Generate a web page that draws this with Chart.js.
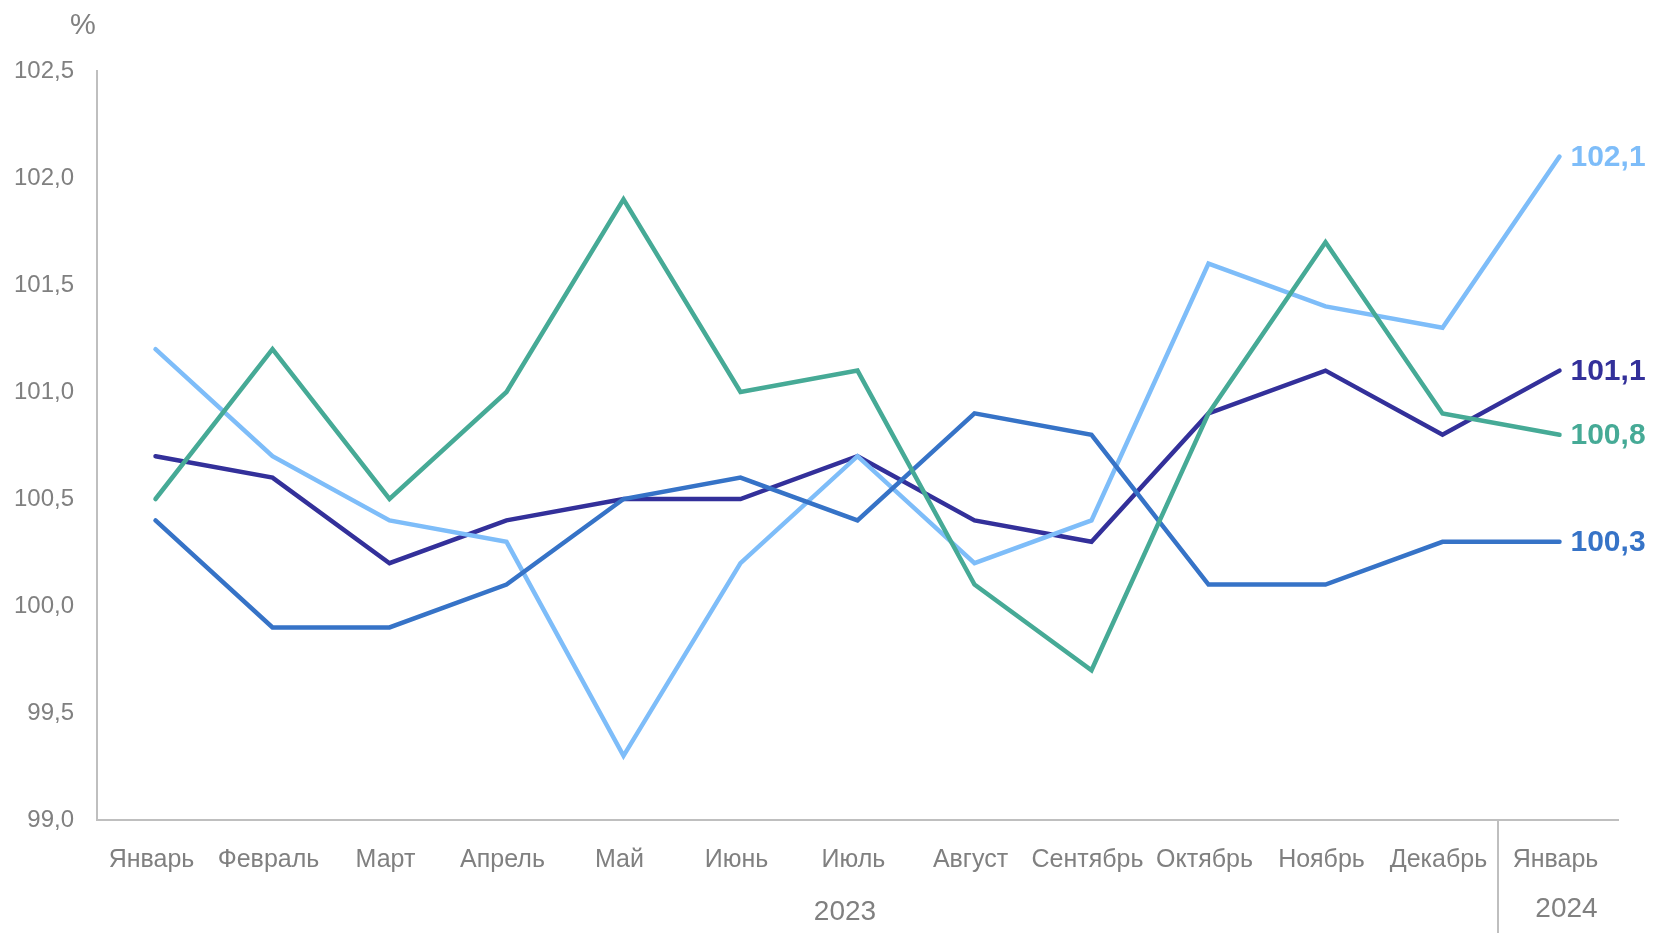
<!DOCTYPE html>
<html>
<head>
<meta charset="utf-8">
<script src="https://cdn.jsdelivr.net/npm/chart.js@4"></script>
<style>
  html, body { margin: 0; padding: 0; background: #fff; }
  #wrap { width: 1655px; height: 933px; position: relative; }
</style>
</head>
<body>
<div id="wrap"><canvas id="grafico"></canvas></div>
<script>
// categorías y años
const meses = ['Январь', 'Февраль', 'Март', 'Апрель', 'Май', 'Июнь', 'Июль',
  'Август', 'Сентябрь', 'Октябрь', 'Ноябрь', 'Декабрь', 'Январь'];
const anios = ['2023', '2024'];

// series (%)
const serieVerde = [100.5, 101.2, 100.5, 101.0, 101.9, 101.0, 101.1, 100.1, 99.7, 100.9, 101.7, 100.9, 100.8];
const serieAzul = [100.4, 99.9, 99.9, 100.1, 100.5, 100.6, 100.4, 100.9, 100.8, 100.1, 100.1, 100.3, 100.3];
const serieCeleste = [101.2, 100.7, 100.4, 100.3, 99.3, 100.2, 100.7, 100.2, 100.4, 101.6, 101.4, 101.3, 102.1];
const serieMarino = [100.7, 100.6, 100.2, 100.4, 100.5, 100.5, 100.7, 100.4, 100.3, 100.9, 101.1, 100.8, 101.1];

// eje Y
const yMin = 99.0, yMax = 102.5, yPaso = 0.5;

const gris = '#808080';
const grisLinea = '#BFBFBF';
const fuente = '"Liberation Sans", Arial, sans-serif';

const fmt = v => v.toFixed(1).replace('.', ',');

// etiquetas al final de cada línea, textos extra y separador de años
const extras = {
  id: 'extras',
  afterDatasetsDraw(chart) {
    const ctx = chart.ctx;
    const x = chart.scales.x, y = chart.scales.y;
    ctx.save();
    // etiquetas finales
    ctx.font = 'bold 30px ' + fuente;
    ctx.textAlign = 'left';
    ctx.textBaseline = 'middle';
    chart.data.datasets.forEach((ds, i) => {
      const meta = chart.getDatasetMeta(i);
      const p = meta.data[meta.data.length - 1];
      ctx.fillStyle = ds.borderColor;
      ctx.fillText(fmt(ds.data[ds.data.length - 1]), p.x + 11, p.y + 1);
    });
    // unidad
    ctx.fillStyle = gris;
    ctx.font = '29px ' + fuente;
    ctx.textAlign = 'center';
    ctx.fillText('%', 83, 26);
    // separador entre años
    const sep = (x.getPixelForValue(11) + x.getPixelForValue(12)) / 2 - 3;
    ctx.strokeStyle = grisLinea;
    ctx.lineWidth = 2;
    ctx.beginPath();
    ctx.moveTo(sep, y.bottom);
    ctx.lineTo(sep, chart.height);
    ctx.stroke();
    // años
    ctx.font = '28px ' + fuente;
    ctx.fillText(anios[0], 845, 912);
    ctx.fillText(anios[1], x.getPixelForValue(12) + 7, 909);
    ctx.restore();
  }
};

function serie(datos, color) {
  return {
    data: datos,
    borderColor: color,
    backgroundColor: color,
    borderWidth: 4.5,
    borderCapStyle: 'round',
    pointRadius: 0,
    tension: 0,
    fill: false
  };
}

new Chart(document.getElementById('grafico'), {
  type: 'line',
  data: {
    labels: meses,
    datasets: [
      serie(serieVerde, '#46AA96'),
      serie(serieAzul, '#3673C7'),
      serie(serieCeleste, '#7EBDF9'),
      serie(serieMarino, '#33309A')
    ]
  },
  options: {
    responsive: true,
    maintainAspectRatio: false,
    animation: false,
    layout: { padding: { top: 71, right: 37, left: 0, bottom: 0 } },
    plugins: { legend: { display: false }, tooltip: { enabled: false } },
    scales: {
      x: {
        offset: true,
        grid: { display: false, drawTicks: false },
        border: { display: true, color: grisLinea, width: 2 },
        ticks: {
          color: gris,
          font: { family: fuente, size: 25 },
          padding: 25,
          labelOffset: -4,
          maxRotation: 0,
          autoSkip: false
        },
        afterFit(scale) { scale.height = 113; }
      },
      y: {
        min: yMin,
        max: yMax,
        grid: { display: false, drawTicks: false },
        border: { display: true, color: grisLinea, width: 2 },
        ticks: {
          stepSize: yPaso,
          color: gris,
          font: { family: fuente, size: 24 },
          padding: 23,
          callback: v => fmt(v)
        },
        afterFit(scale) { scale.width = 97; }
      }
    }
  },
  plugins: [extras]
});
</script>
</body>
</html>
